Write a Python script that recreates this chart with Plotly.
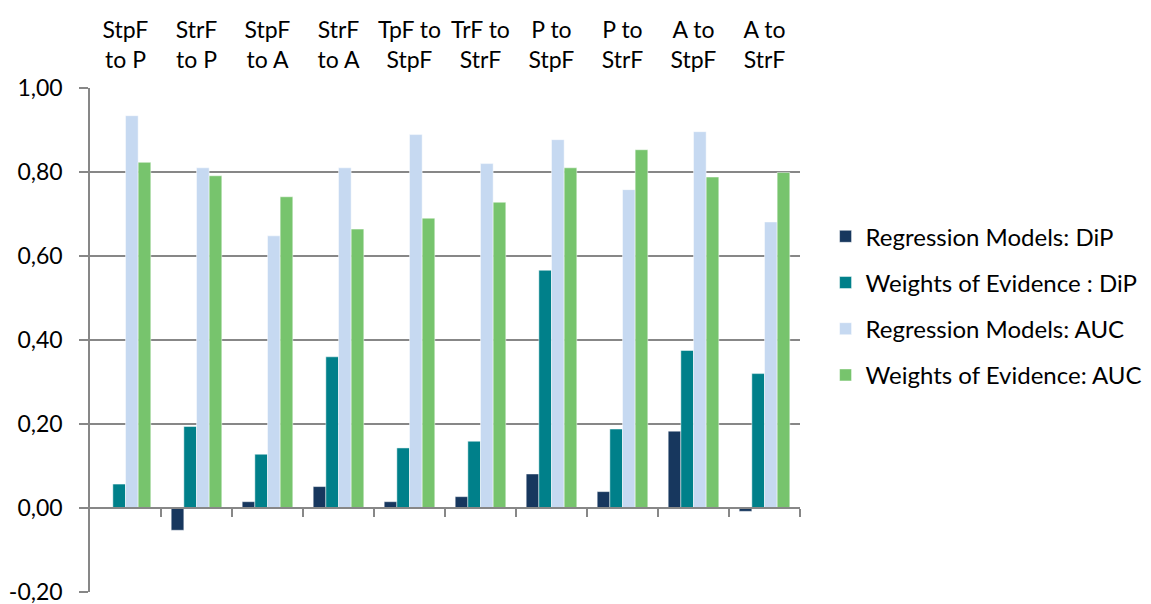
import plotly.graph_objects as go

categories = ["StpF<br>to P", "StrF<br>to P", "StpF<br>to A", "StrF<br>to A", "TpF to<br>StpF",
              "TrF to<br>StrF", "P to<br>StpF", "P to<br>StrF", "A to<br>StpF", "A to<br>StrF"]
rm_dip = [0.0, -0.053, 0.015, 0.051, 0.015, 0.027, 0.081, 0.039, 0.183, -0.008]
woe_dip = [0.057, 0.194, 0.128, 0.360, 0.143, 0.159, 0.566, 0.188, 0.375, 0.320]
rm_auc = [0.934, 0.810, 0.648, 0.810, 0.889, 0.820, 0.877, 0.758, 0.896, 0.681]
woe_auc = [0.823, 0.791, 0.741, 0.664, 0.690, 0.728, 0.810, 0.853, 0.788, 0.799]

y_tick_vals = [-0.2, 0.0, 0.2, 0.4, 0.6, 0.8, 1.0]
y_tick_text = ["-0,20", "0,00", "0,20", "0,40", "0,60", "0,80", "1,00"]

series = [
    ("Regression Models: DiP", rm_dip, "#17375E"),
    ("Weights of Evidence : DiP", woe_dip, "#00808A"),
    ("Regression Models: AUC", rm_auc, "#C6D9F1"),
    ("Weights of Evidence: AUC", woe_auc, "#77C46D"),
]

FONT = "Lato"
fig = go.Figure()
xs = list(range(len(categories)))
for i, (name, vals, col) in enumerate(series):
    fig.add_trace(go.Bar(x=xs, y=vals, name=name,
                         marker=dict(color=col, line=dict(color="rgba(255,255,255,0.6)", width=0.8)),
                         legendgroup=f"g{i}"))

# invisible trace for boundary tick axis at zero
fig.add_trace(go.Scatter(x=[xs[0], xs[-1]], y=[0, 0], xaxis="x2", mode="lines",
                         line=dict(width=0), showlegend=False, hoverinfo="skip"))

zero_frac = (0 - (-0.2)) / (1.0 - (-0.2))

fig.update_layout(
    width=1151, height=604,
    margin=dict(l=90, r=351, t=88, b=12, autoexpand=False),
    paper_bgcolor="white", plot_bgcolor="white",
    barmode="group", bargap=0.287, bargroupgap=0,
    font=dict(family=FONT, size=23, color="#000000"),
    showlegend=True,
    legend=dict(x=1.036, y=0.568, xanchor="left", yanchor="middle",
                font=dict(family=FONT, size=24, color="#000000"),
                tracegroupgap=12, traceorder="grouped"),
    xaxis=dict(side="top", range=[-0.5, len(categories) - 0.5], tickmode="array",
               tickvals=xs, ticktext=categories, showline=False, showgrid=False,
               zeroline=False, ticks="", ticklabelstandoff=14, automargin=False,
               tickfont=dict(family=FONT, size=23)),
    xaxis2=dict(overlaying="x", anchor="free", position=zero_frac,
                range=[-0.5, len(categories) - 0.5], tickmode="array",
                tickvals=[x + 0.5 for x in xs], showticklabels=False, ticks="outside",
                ticklen=8, tickcolor="#878787", tickwidth=1.5, showline=True,
                linecolor="#878787", linewidth=1.5, showgrid=False, zeroline=False,
                automargin=False),
    yaxis=dict(range=[-0.2, 1.0], tickmode="array", tickvals=y_tick_vals, ticktext=y_tick_text,
               showgrid=True, gridcolor="#878787", gridwidth=1.5,
               showline=True, linecolor="#878787", linewidth=1.5,
               ticks="outside", ticklen=9, tickcolor="#878787", tickwidth=1.5,
               zeroline=False, ticklabelstandoff=12, automargin=False,
               ticklabeloverflow="allow",
               tickfont=dict(family=FONT, size=23)),
)

post = ("document.body.style.margin='0';"
        "document.body.style.overflow='hidden';"
        "document.documentElement.style.overflow='hidden';")

fig.write_html("out.html", config={"displayModeBar": False}, post_script=post)
